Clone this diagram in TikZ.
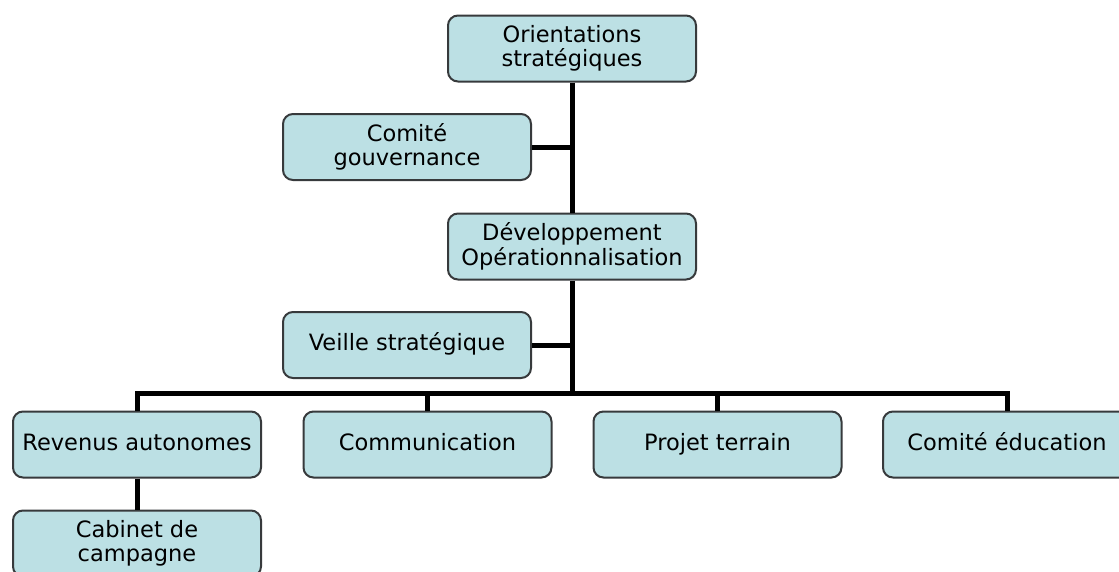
\documentclass[tikz,border=0pt]{standalone}
\usepackage{fontspec}
\setmainfont{DejaVu Sans}
\usepackage{tikz}

\definecolor{boxfill}{RGB}{188,224,228}
\definecolor{boxline}{RGB}{55,58,60}

\begin{document}
\begin{tikzpicture}[x=1pt,y=-1pt,
    orgbox/.style={draw=boxline, line width=2pt, fill=boxfill, rounded corners=10pt,
        minimum width=248pt, minimum height=66pt, inner sep=0pt, align=center,
        font=\fontsize{22.5}{24.5}\selectfont},
    onerow/.style={orgbox, text height=16.5pt, text depth=5pt},
    link/.style={line width=5pt, line join=miter}]
    \clip (0,0) rectangle (1119,571);
    \fill[white] (0,0) rectangle (1119,571);

    % Top of the chart
    \node[orgbox] (orient) at (572,48.5) {Orientations\\stratégiques};
    \node[orgbox] (gouv) at (407,147) {Comité\\gouvernance};
    \node[orgbox] (devel) at (572,246.5) {Développement\\Opérationnalisation};
    \node[onerow] (veille) at (407,345) {Veille stratégique};

    % Bottom row
    \node[onerow] (rev) at (137,444.5) {Revenus autonomes};
    \node[onerow] (comm) at (427.5,444.5) {Communication};
    \node[onerow] (proj) at (717.5,444.5) {Projet terrain};
    \node[onerow] (edu) at (1007,444.5) {Comité éducation};
    \node[orgbox] (cab) at (137,543.5) {Cabinet de\\campagne};

    \coordinate (bus) at (572,393);

    % Connectors
    \draw[link] (orient.south) -- (devel.north);
    \draw[link] (gouv.east) -- (gouv.east -| orient.south);
    \draw[link] (devel.south) -- (bus);
    \draw[link] (veille.east) -- (veille.east -| bus);
    \draw[link] (rev.north) |- (bus) -| (edu.north);
    \draw[link] (comm.north) -- (comm.north |- bus);
    \draw[link] (proj.north) -- (proj.north |- bus);
    \draw[link] (rev.south) -- (cab.north);
\end{tikzpicture}
\end{document}
